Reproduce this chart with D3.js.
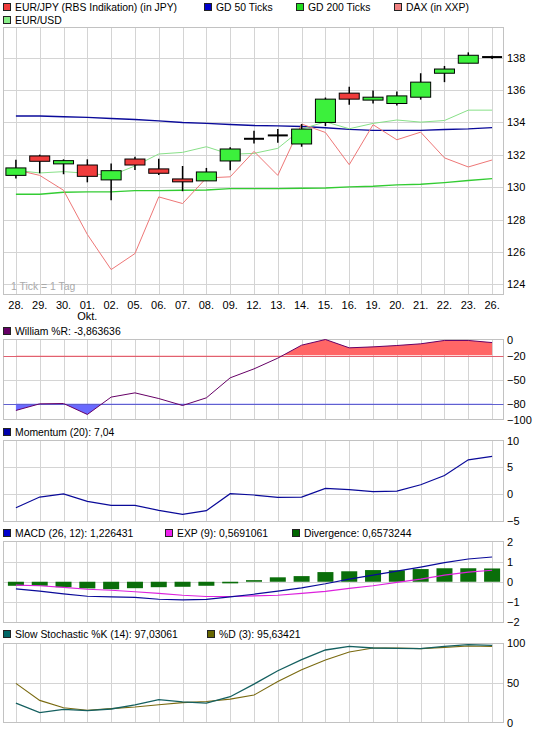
<!DOCTYPE html>
<html><head><meta charset="utf-8">
<script src="https://cdn.jsdelivr.net/npm/d3@7/dist/d3.min.js"></script>
<style>
html,body{margin:0;padding:0;background:#fff;}
text{font-family:"Liberation Sans",Arial,sans-serif;font-size:10.4px;fill:#000;}
</style></head>
<body><svg id="c" width="536" height="730"></svg>
<script>
const days = ["28.","29.","30.","01.","02.","05.","06.","07.","08.","09.","12.","13.","14.","15.","16.","19.","20.","21.","22.","23.","26."];
const openV  = [130.73,131.93,131.44,131.37,130.45,131.74,131.13,130.51,130.39,131.62,132.99,133.20,132.67,134.00,135.81,135.38,135.17,135.56,137.04,137.66,138.04];
const closeV = [131.19,131.60,131.64,130.67,131.02,131.37,130.86,130.33,130.94,132.36,132.99,133.20,133.59,135.44,135.44,135.56,135.64,136.49,137.30,138.15,138.04];
const highV  = [131.70,132.01,131.72,131.72,131.47,131.88,131.76,131.31,131.19,132.46,133.49,133.59,133.90,135.54,136.20,135.97,135.91,137.04,137.49,138.33,138.12];
const lowV   = [130.53,130.86,130.80,130.30,129.19,131.06,130.76,129.75,130.39,131.04,132.70,132.75,132.50,133.78,135.09,135.17,135.04,135.41,136.49,137.66,137.92];
const gd50   = [134.40,134.40,134.35,134.31,134.24,134.18,134.10,134.00,133.94,133.87,133.81,133.79,133.75,133.67,133.57,133.51,133.51,133.51,133.56,133.60,133.68];
const gd200  = [129.56,129.56,129.69,129.71,129.71,129.79,129.79,129.81,129.83,129.91,129.91,129.91,129.93,129.95,130.02,130.06,130.14,130.18,130.28,130.41,130.53];
const dax    = [131.07,130.73,129.81,127.08,124.91,125.90,129.40,128.99,130.57,130.64,132.21,130.73,133.90,133.38,131.39,133.86,132.93,133.40,131.81,131.25,131.68];
const eurusd = [131.04,130.88,130.96,130.86,130.72,131.31,132.05,132.15,132.50,132.03,132.09,132.40,133.59,134.04,133.61,133.94,134.15,134.02,134.12,134.76,134.76];
const mainTicks = [124,126,128,130,132,134,136,138];

const williamR = [-88.7,-80.4,-80,-93.7,-72,-66.7,-73.8,-82.5,-72.9,-47.9,-36.7,-23.3,-7.1,0,-10.4,-9.2,-7.5,-5.4,-1.2,-1.2,-3.86];
const williamTicks = [0,-20,-50,-80,-100];
const momentum = [-2.52,-0.54,0.04,-1.34,-2.08,-2.08,-3.01,-3.75,-3.07,0.09,-0.16,-0.59,-0.54,1.08,0.83,0.46,0.58,1.76,3.49,6.40,7.04];
const momTicks = [10,5,0,-5];
const macd = [-0.35,-0.47,-0.6,-0.72,-0.75,-0.78,-0.87,-0.9,-0.88,-0.75,-0.62,-0.47,-0.3,-0.1,0.13,0.33,0.53,0.73,0.95,1.13,1.23];
const macdExp = [-0.17,-0.2,-0.28,-0.37,-0.42,-0.5,-0.58,-0.67,-0.73,-0.73,-0.7,-0.67,-0.58,-0.48,-0.33,-0.2,-0.03,0.13,0.33,0.48,0.57];
const macdDiv = [-0.2,-0.2,-0.27,-0.33,-0.37,-0.32,-0.27,-0.25,-0.2,-0.08,0.08,0.22,0.28,0.48,0.52,0.58,0.57,0.63,0.67,0.67,0.66];
const macdTicks = [2,1,0,-1,-2];
const stochK = [24.5,12.5,16.5,15,17,22.3,28.7,26,24.4,32.4,48.3,65.1,79,91.2,95.8,93.7,93.3,92.9,95.8,97.9,97.03];
const stochD = [49.2,27.8,18.5,15.5,17.5,19.5,22.3,25,26.5,29.4,34.5,51.7,66.4,78.6,88.7,93.7,93.7,92.9,94.5,96.2,95.63];
const stochTicks = [100,50,0];

const svg = d3.select("#c");
svg.append("rect").attr("width",536).attr("height",730).attr("fill","#fff");
const x = d3.scaleBand().domain(days).range([4,504]);
const cx = d => x(d) + x.bandwidth()/2;
const L = 3.5, R = 503.5;
const GRID = "#d4d4d4", BORDER = "#c2c2c2";

function panel(top, bottom, yScale, ticks, gridTicks){
  const g = svg.append("g");
  g.append("rect").attr("x",L).attr("y",top).attr("width",R-L).attr("height",bottom-top).attr("fill","#fff");
  g.selectAll("line.v").data(days).enter().append("line")
    .attr("x1",d=>Math.round(cx(d))+0.5).attr("x2",d=>Math.round(cx(d))+0.5)
    .attr("y1",top).attr("y2",bottom).attr("stroke",GRID).attr("shape-rendering","crispEdges");
  g.selectAll("line.h").data(gridTicks).enter().append("line")
    .attr("x1",L).attr("x2",R)
    .attr("y1",d=>Math.round(yScale(d))+0.5).attr("y2",d=>Math.round(yScale(d))+0.5)
    .attr("stroke",GRID).attr("shape-rendering","crispEdges");
  g.append("rect").attr("x",L).attr("y",top).attr("width",R-L).attr("height",bottom-top)
    .attr("fill","none").attr("stroke",BORDER).attr("shape-rendering","crispEdges");
  const ax = svg.append("g").attr("transform","translate(504,0)")
    .call(d3.axisRight(yScale).tickValues(ticks).tickSize(0).tickPadding(3).tickFormat(d=>String(d).replace("-","\u2212")));
  ax.select(".domain").remove();
  ax.selectAll("text").style("font-family","Liberation Sans, Arial, sans-serif").style("font-size","11px").attr("fill","#000");
  return {g, ax};
}

function legend(items, base){
  items.forEach(it=>{
    svg.append("rect").attr("x",it.x+0.5).attr("y",base-7.5).attr("width",7).attr("height",7)
      .attr("fill",it.color).attr("stroke","#222").attr("shape-rendering","crispEdges");
    svg.append("text").attr("x",it.x+12).attr("y",base).text(it.label);
  });
}

// ---------- main panel ----------
const y = d3.scaleLinear().domain([124,138]).range([284.3,57.7]);
panel(27.5, 294.5, y, mainTicks, mainTicks);
legend([{x:3,color:"#f03c3c",label:"EUR/JPY (RBS Indikation) (in JPY)"},
        {x:204,color:"#0000cc",label:"GD 50 Ticks"},
        {x:296,color:"#22dd22",label:"GD 200 Ticks"},
        {x:394,color:"#f08080",label:"DAX (in XXP)"}], 11);
legend([{x:3,color:"#88ee88",label:"EUR/USD"}], 24);

const mline = (arr, sc) => d3.line().x((d,i)=>cx(days[i])).y(d=>sc(d))(arr);
svg.append("path").attr("d",mline(gd200,y)).attr("fill","none").attr("stroke","#33cc33").attr("stroke-width",1.4);
svg.append("path").attr("d",mline(gd50,y)).attr("fill","none").attr("stroke","#0a0a9a").attr("stroke-width",1.4);
svg.append("path").attr("d",mline(eurusd,y)).attr("fill","none").attr("stroke","#88e088").attr("stroke-width",1);
svg.append("path").attr("d",mline(dax,y)).attr("fill","none").attr("stroke","#ee7777").attr("stroke-width",1);

const candles = svg.append("g");
days.forEach((d,i)=>{
  const c = cx(d);
  candles.append("line").attr("x1",c).attr("x2",c).attr("y1",y(highV[i])).attr("y2",y(lowV[i]))
    .attr("stroke","#000").attr("stroke-width",1.5);
  if (openV[i] === closeV[i]) {
    candles.append("line").attr("x1",c-10).attr("x2",c+10).attr("y1",y(openV[i])).attr("y2",y(openV[i]))
      .attr("stroke","#000").attr("stroke-width",2);
  } else {
    const up = closeV[i] > openV[i];
    const top = y(Math.max(openV[i],closeV[i])), bot = y(Math.min(openV[i],closeV[i]));
    candles.append("rect").attr("x",c-10).attr("y",top).attr("width",20).attr("height",Math.max(bot-top,1))
      .attr("fill", up ? "#3cf03c" : "#f03c3c").attr("stroke","#000").attr("stroke-width",1);
  }
});
svg.append("text").attr("x",11).attr("y",290).style("fill","#aaa").text("1 Tick = 1 Tag");

const xa = svg.append("g").attr("transform","translate(0,298)").call(d3.axisBottom(x).tickSize(0).tickPadding(3));
xa.select(".domain").remove();
xa.selectAll("text").style("font-family","Liberation Sans, Arial, sans-serif").style("font-size","11px");
svg.append("text").attr("x",cx("01.")).attr("y",320).attr("text-anchor","middle").style("font-size","11px").text("Okt.");

// ---------- William %R ----------
const yW = d3.scaleLinear().domain([-100,0]).range([419.5,339.5]);
const pW = panel(339.5, 419.5, yW, williamTicks, [-50]);
legend([{x:3,color:"#660066",label:"William %R: -3,863636"}], 335);
const defs = svg.append("defs");
defs.append("clipPath").attr("id","clipTop").append("rect").attr("x",0).attr("y",yW(0)-2).attr("width",536).attr("height",yW(-20)-yW(0)+2);
defs.append("clipPath").attr("id","clipBot").append("rect").attr("x",0).attr("y",yW(-80)).attr("width",536).attr("height",yW(-100)-yW(-80)+2);
svg.append("path").attr("clip-path","url(#clipTop)")
  .attr("d",d3.area().x((d,i)=>cx(days[i])).y0(yW(-20)).y1(d=>yW(d))(williamR)).attr("fill","#ff6666");
svg.append("path").attr("clip-path","url(#clipBot)")
  .attr("d",d3.area().x((d,i)=>cx(days[i])).y0(yW(-80)).y1(d=>yW(d))(williamR)).attr("fill","#6a6aff");
svg.append("line").attr("x1",L).attr("x2",R).attr("y1",Math.round(yW(-20))+0.5).attr("y2",Math.round(yW(-20))+0.5).attr("stroke","#e06070");
svg.append("line").attr("x1",L).attr("x2",R).attr("y1",Math.round(yW(-80))+0.5).attr("y2",Math.round(yW(-80))+0.5).attr("stroke","#6060d0");
svg.append("path").attr("d",mline(williamR,yW)).attr("fill","none").attr("stroke","#660066").attr("stroke-width",1);
pW.ax.selectAll(".tick text").attr("fill",d=> d===-20 ? "#e06060" : d===-80 ? "#5050c0" : "#000");

// ---------- Momentum ----------
const yM = d3.scaleLinear().domain([-5,10]).range([521,440.5]);
panel(440.5, 521, yM, momTicks, [5,0]);
legend([{x:3,color:"#0000aa",label:"Momentum (20): 7,04"}], 436);
svg.append("path").attr("d",mline(momentum,yM)).attr("fill","none").attr("stroke","#0a0a99").attr("stroke-width",1.2);

// ---------- MACD ----------
const yC = d3.scaleLinear().domain([-2,2]).range([622,541.5]);
panel(541.5, 622, yC, macdTicks, [1,0,-1]);
legend([{x:3,color:"#0000cc",label:"MACD (26, 12): 1,226431"},
        {x:165,color:"#ee22ee",label:"EXP (9): 0,5691061"},
        {x:292,color:"#006600",label:"Divergence: 0,6573244"}], 537);
svg.append("g").selectAll("rect").data(macdDiv).enter().append("rect")
  .attr("x",(d,i)=>cx(days[i])-8).attr("width",16)
  .attr("y",d=>Math.min(yC(d),yC(0))).attr("height",d=>Math.abs(yC(d)-yC(0)))
  .attr("fill","#0a6e0a");
svg.append("path").attr("d",mline(macdExp,yC)).attr("fill","none").attr("stroke","#dd22dd").attr("stroke-width",1.1);
svg.append("path").attr("d",mline(macd,yC)).attr("fill","none").attr("stroke","#0a0a99").attr("stroke-width",1.2);

// ---------- Stochastic ----------
const yS = d3.scaleLinear().domain([0,100]).range([722.5,643]);
panel(643, 722.5, yS, stochTicks, [50]);
legend([{x:3,color:"#006666",label:"Slow Stochastic %K (14): 97,03061"},
        {x:207,color:"#666600",label:"%D (3): 95,63421"}], 638);
svg.append("path").attr("d",mline(stochD,yS)).attr("fill","none").attr("stroke","#7a6a10").attr("stroke-width",1.1);
svg.append("path").attr("d",mline(stochK,yS)).attr("fill","none").attr("stroke","#156060").attr("stroke-width",1.3);
</script></body></html>
